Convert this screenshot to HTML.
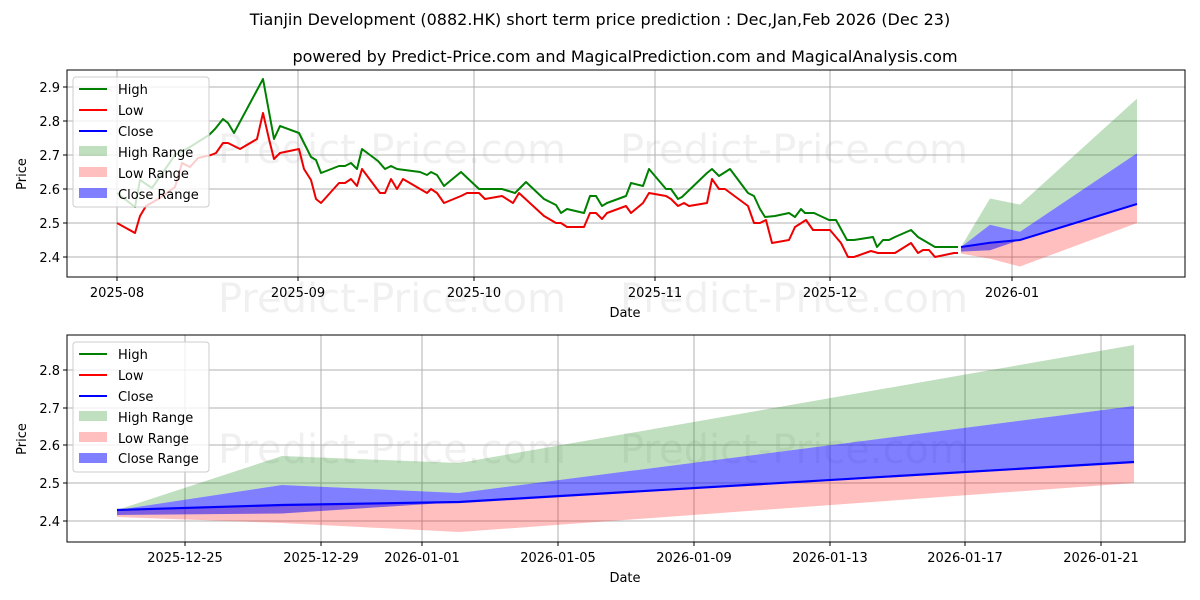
<!DOCTYPE html>
<html><head><meta charset="utf-8"><style>
body{margin:0;background:#fff}
svg{display:block;font-family:"DejaVu Sans","Liberation Sans",sans-serif}
</style></head><body>
<svg width="1200" height="600" viewBox="0 0 1200 600" xmlns="http://www.w3.org/2000/svg">
<rect width="1200" height="600" fill="#fff"/>
<text x="600" y="25" font-size="16" text-anchor="middle">Tianjin Development (0882.HK) short term price prediction : Dec,Jan,Feb 2026 (Dec 23)</text>
<text x="625" y="62" font-size="16" text-anchor="middle">powered by Predict-Price.com and MagicalPrediction.com and MagicalAnalysis.com</text>

<!-- watermarks -->
<g font-size="40" fill="#000" fill-opacity="0.06">
<text x="218" y="163">Predict-Price.com</text>
<text x="620" y="163">Predict-Price.com</text>
<text x="218" y="312">Predict-Price.com</text>
<text x="620" y="312">Predict-Price.com</text>
<text x="218" y="463">Predict-Price.com</text>
<text x="620" y="463">Predict-Price.com</text>
</g>

<!-- TOP CHART -->
<g stroke="#b0b0b0" stroke-width="1">
<line x1="117" y1="70" x2="117" y2="277"/><line x1="298" y1="70" x2="298" y2="277"/>
<line x1="474" y1="70" x2="474" y2="277"/><line x1="655" y1="70" x2="655" y2="277"/>
<line x1="830" y1="70" x2="830" y2="277"/><line x1="1012" y1="70" x2="1012" y2="277"/>
<line x1="67" y1="87" x2="1185" y2="87"/><line x1="67" y1="121" x2="1185" y2="121"/>
<line x1="67" y1="155" x2="1185" y2="155"/><line x1="67" y1="189" x2="1185" y2="189"/>
<line x1="67" y1="223" x2="1185" y2="223"/><line x1="67" y1="257" x2="1185" y2="257"/>
</g>
<polygon fill="green" fill-opacity="0.25" points="961,247 990,198.5 1020,204.6 1137,98.6 1137,153.3 1020,231.8 990,224.7 961,247"/>
<polygon fill="red" fill-opacity="0.25" points="961,247 990,242.7 1020,240 1137,204 1137,223 1020,266.5 990,258.7 961,253.6"/>
<polygon fill="blue" fill-opacity="0.5" points="961,247 990,224.7 1020,231.8 1137,153.3 1137,204 1020,240 990,250.2 961,251.6"/>
<polyline fill="none" stroke="blue" stroke-width="2" points="961,247 990,242.7 1020,240 1137,204"/>
<polyline fill="none" stroke="green" stroke-width="2" stroke-linejoin="round" points="117,193 135,207 140,180 152,188 175,155 190,147 209,135 215,129 223,119 228,123 234,133 263,79 274,139 280,126 299,133 311,157 316,160 321,173 339,166 345,166 351,163 357,169 362,149 378,161 385,169 391,166 397,169 420,172 427,175 431,172 437,175 444,186 461,172 479,189 502,189 515,193 526,182 544,199 556,205 561,213 567,209 584,213 590,196 596,196 602,206 607,203 626,196 631,183 643,186 649,169 666,189 671,189 678,199 682,197 707,173 712,169 719,176 730,169 748,193 754,196 760,209 765,217 775,216 789,213 795,217 801,209 805,213 814,213 829,220 836,220 847,240 854,240 873,237 877,247 883,240 889,240 895,237 911,230 918,237 935,247 958,247"/>
<polyline fill="none" stroke="#e00" stroke-width="2" stroke-linejoin="round" points="117,223 135,233 140,216 146,206 160,198 175,187 182,163 190,167 198,158 211,155 216,153 223,143 228,143 240,149 257,139 263,113 269,139 274,159 280,153 299,149 304,169 311,180 316,199 321,203 339,183 345,183 351,179 357,186 362,169 380,193 385,193 391,179 397,189 403,179 427,193 431,189 437,193 444,203 461,196 467,193 479,193 485,199 502,196 513,203 519,193 544,216 556,223 561,223 567,227 584,227 590,213 596,213 602,219 607,213 626,206 631,213 643,203 649,193 666,196 671,199 678,206 684,203 689,206 707,203 712,179 719,189 725,189 748,206 754,223 760,223 766,220 772,243 789,240 795,227 806,220 813,230 830,230 841,243 848,257 854,257 871,251 878,253 895,253 911,243 918,253 923,250 929,250 935,257 954,253 958,253"/>
<rect x="67" y="70" width="1118" height="207" fill="none" stroke="#000" stroke-width="1"/>
<g stroke="#000"><line x1="117" y1="277" x2="117" y2="281"/><line x1="298" y1="277" x2="298" y2="281"/><line x1="474" y1="277" x2="474" y2="281"/><line x1="655" y1="277" x2="655" y2="281"/><line x1="830" y1="277" x2="830" y2="281"/><line x1="1012" y1="277" x2="1012" y2="281"/>
<line x1="63" y1="87" x2="67" y2="87"/><line x1="63" y1="121" x2="67" y2="121"/><line x1="63" y1="155" x2="67" y2="155"/><line x1="63" y1="189" x2="67" y2="189"/><line x1="63" y1="223" x2="67" y2="223"/><line x1="63" y1="257" x2="67" y2="257"/></g>
<g font-size="13" text-anchor="middle"><text x="117" y="297">2025-08</text><text x="298" y="297">2025-09</text><text x="474" y="297">2025-10</text><text x="655" y="297">2025-11</text><text x="830" y="297">2025-12</text><text x="1012" y="297">2026-01</text></g>
<g font-size="13" text-anchor="end"><text x="60" y="92">2.9</text><text x="60" y="126">2.8</text><text x="60" y="160">2.7</text><text x="60" y="194">2.6</text><text x="60" y="228">2.5</text><text x="60" y="262">2.4</text></g>
<text x="625" y="317" font-size="13" text-anchor="middle">Date</text>
<text transform="translate(26,174) rotate(-90)" font-size="13" text-anchor="middle">Price</text>
<!-- legend top -->
<rect x="73" y="77" width="136" height="130" rx="3" fill="#fff" fill-opacity="0.8" stroke="#ccc"/>
<g font-size="13">
<line x1="79" y1="89" x2="107" y2="89" stroke="green" stroke-width="2"/><text x="118" y="94">High</text>
<line x1="79" y1="110" x2="107" y2="110" stroke="red" stroke-width="2"/><text x="118" y="115">Low</text>
<line x1="79" y1="131" x2="107" y2="131" stroke="blue" stroke-width="2"/><text x="118" y="136">Close</text>
<rect x="79" y="146" width="28" height="10" fill="green" fill-opacity="0.25"/><text x="118" y="157">High Range</text>
<rect x="79" y="167" width="28" height="10" fill="red" fill-opacity="0.25"/><text x="118" y="178">Low Range</text>
<rect x="79" y="188" width="28" height="10" fill="blue" fill-opacity="0.5"/><text x="118" y="199">Close Range</text>
</g>

<!-- BOTTOM CHART -->
<g stroke="#b0b0b0" stroke-width="1">
<line x1="185" y1="335" x2="185" y2="542"/><line x1="321" y1="335" x2="321" y2="542"/><line x1="422" y1="335" x2="422" y2="542"/>
<line x1="558" y1="335" x2="558" y2="542"/><line x1="694" y1="335" x2="694" y2="542"/><line x1="830" y1="335" x2="830" y2="542"/>
<line x1="965" y1="335" x2="965" y2="542"/><line x1="1101" y1="335" x2="1101" y2="542"/>
<line x1="67" y1="370" x2="1185" y2="370"/><line x1="67" y1="408" x2="1185" y2="408"/><line x1="67" y1="445" x2="1185" y2="445"/><line x1="67" y1="483" x2="1185" y2="483"/><line x1="67" y1="521" x2="1185" y2="521"/>
</g>
<polygon fill="green" fill-opacity="0.25" points="117,510 282,456 459,463 1134,345 1134,406 459,493 282,485 117,510"/>
<polygon fill="red" fill-opacity="0.25" points="117,510 282,505 459,502 1134,462 1134,483 459,532 282,523 117,517"/>
<polygon fill="blue" fill-opacity="0.5" points="117,510 282,485 459,493 1134,406 1134,462 459,502 282,513.5 117,515"/>
<polyline fill="none" stroke="blue" stroke-width="2.2" points="117,510 282,505 459,502 1134,462"/>
<rect x="67" y="335" width="1118" height="207" fill="none" stroke="#000" stroke-width="1"/>
<g stroke="#000"><line x1="185" y1="542" x2="185" y2="546"/><line x1="321" y1="542" x2="321" y2="546"/><line x1="422" y1="542" x2="422" y2="546"/><line x1="558" y1="542" x2="558" y2="546"/><line x1="694" y1="542" x2="694" y2="546"/><line x1="830" y1="542" x2="830" y2="546"/><line x1="965" y1="542" x2="965" y2="546"/><line x1="1101" y1="542" x2="1101" y2="546"/>
<line x1="63" y1="370" x2="67" y2="370"/><line x1="63" y1="408" x2="67" y2="408"/><line x1="63" y1="445" x2="67" y2="445"/><line x1="63" y1="483" x2="67" y2="483"/><line x1="63" y1="521" x2="67" y2="521"/></g>
<g font-size="13" text-anchor="middle"><text x="185" y="562">2025-12-25</text><text x="321" y="562">2025-12-29</text><text x="422" y="562">2026-01-01</text><text x="558" y="562">2026-01-05</text><text x="694" y="562">2026-01-09</text><text x="830" y="562">2026-01-13</text><text x="965" y="562">2026-01-17</text><text x="1101" y="562">2026-01-21</text></g>
<g font-size="13" text-anchor="end"><text x="60" y="375">2.8</text><text x="60" y="413">2.7</text><text x="60" y="450">2.6</text><text x="60" y="488">2.5</text><text x="60" y="526">2.4</text></g>
<text x="625" y="582" font-size="13" text-anchor="middle">Date</text>
<text transform="translate(26,439) rotate(-90)" font-size="13" text-anchor="middle">Price</text>
<rect x="73" y="342" width="136" height="130" rx="3" fill="#fff" fill-opacity="0.8" stroke="#ccc"/>
<g font-size="13">
<line x1="79" y1="354" x2="107" y2="354" stroke="green" stroke-width="2"/><text x="118" y="359">High</text>
<line x1="79" y1="375" x2="107" y2="375" stroke="red" stroke-width="2"/><text x="118" y="380">Low</text>
<line x1="79" y1="396" x2="107" y2="396" stroke="blue" stroke-width="2"/><text x="118" y="401">Close</text>
<rect x="79" y="411" width="28" height="10" fill="green" fill-opacity="0.25"/><text x="118" y="422">High Range</text>
<rect x="79" y="432" width="28" height="10" fill="red" fill-opacity="0.25"/><text x="118" y="443">Low Range</text>
<rect x="79" y="453" width="28" height="10" fill="blue" fill-opacity="0.5"/><text x="118" y="463">Close Range</text>
</g>
</svg>
</body></html>
